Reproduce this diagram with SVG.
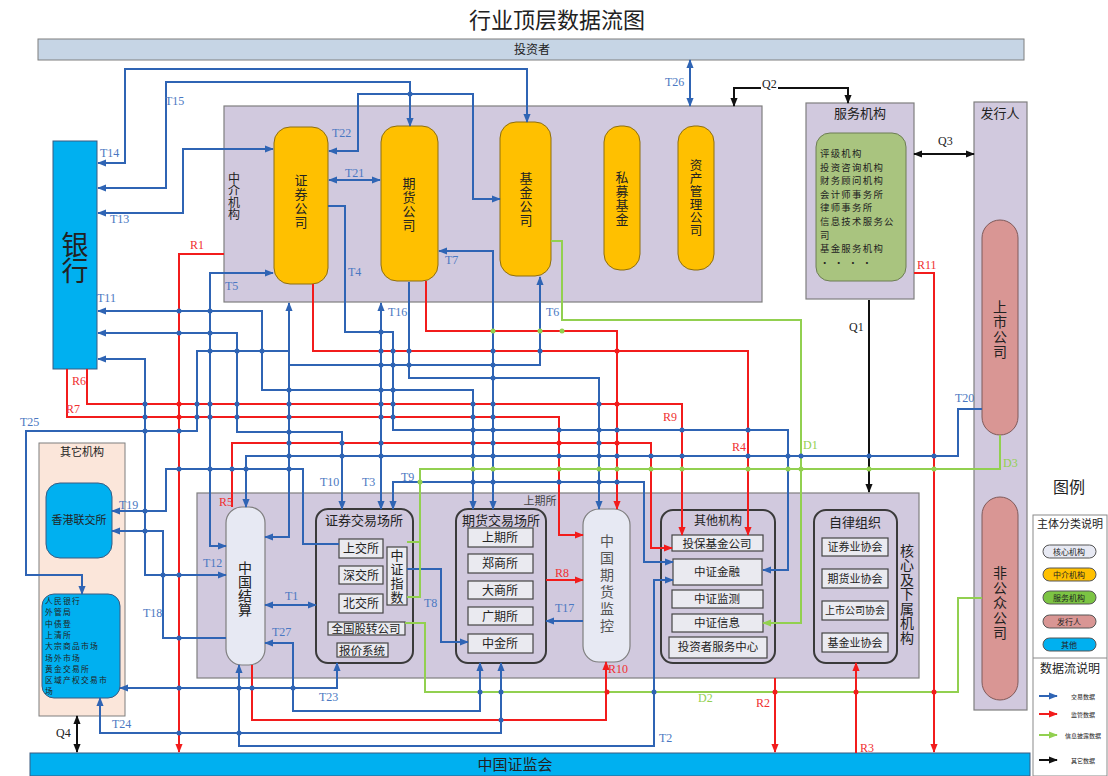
<svg xmlns="http://www.w3.org/2000/svg" width="1108" height="776" viewBox="0 0 1108 776">
<defs>
<style>
text{font-family:"Noto Sans CJK SC","Liberation Sans",sans-serif;fill:#222}
.lbl{font-family:"Liberation Serif",serif;font-size:12px}
.lb{fill:#4a78c2}.lr{fill:#f03030}.lg{fill:#92d050}.lk{fill:#222}
.frame{fill:#d1c9de;stroke:#7f7f7f;stroke-width:1.2}
.org{fill:#ffc000;stroke:#8d6e10;stroke-width:1}
.cont{fill:#d1c9de;stroke:#3a3a3a;stroke-width:2}
.sub{fill:#eaeaf0;stroke:#444;stroke-width:1.2}
.core{fill:#e7e9f3;stroke:#7f7f7f;stroke-width:1.2}
.cyan{fill:#00b0f0;stroke:#3a5a80;stroke-width:1}
.b{fill:none;stroke:#2f64b4;stroke-width:2}
.r{fill:none;stroke:#f21c1c;stroke-width:2}
.g{fill:none;stroke:#92d050;stroke-width:2}
.k{fill:none;stroke:#111;stroke-width:2}
.vt{writing-mode:vertical-rl;text-anchor:middle}
.c{text-anchor:middle}
.db{fill:#2f64b4}.dr{fill:#f21c1c}.dg{fill:#92d050}
</style>
<marker id="ab" viewBox="0 0 10 10" refX="9" refY="5" markerWidth="9" markerHeight="9" markerUnits="userSpaceOnUse" orient="auto-start-reverse"><path d="M0,1 L10,5 L0,9 z" fill="#2f64b4"/></marker>
<marker id="ar" viewBox="0 0 10 10" refX="9" refY="5" markerWidth="9" markerHeight="9" markerUnits="userSpaceOnUse" orient="auto-start-reverse"><path d="M0,1 L10,5 L0,9 z" fill="#f21c1c"/></marker>
<marker id="ag" viewBox="0 0 10 10" refX="9" refY="5" markerWidth="9" markerHeight="9" markerUnits="userSpaceOnUse" orient="auto-start-reverse"><path d="M0,1 L10,5 L0,9 z" fill="#92d050"/></marker>
<marker id="ak" viewBox="0 0 10 10" refX="9" refY="5" markerWidth="9" markerHeight="9" markerUnits="userSpaceOnUse" orient="auto-start-reverse"><path d="M0,1 L10,5 L0,9 z" fill="#111"/></marker>
</defs>
<rect width="1108" height="776" fill="#ffffff"/>
<text x="557" y="28" class="c" style="font-size:22px">行业顶层数据流图</text>

<g id="investor"><rect x="38" y="39" width="986" height="21" fill="#c6d5e5" stroke="#7f7f7f"/><text x="532" y="54" class="c" style="font-size:12px">投资者</text></g>

<g id="intermediary"><rect x="224" y="106" width="538" height="196" class="frame"/>
<text x="234" y="196" class="vt" style="font-size:12px">中介机构</text></g>
<g id="sec-co"><rect x="274" y="127" width="54" height="157" rx="16" class="org"/><text x="301" y="202" class="vt" style="font-size:13px;letter-spacing:1px">证券公司</text></g>
<g id="fut-co"><rect x="381" y="126" width="57" height="155" rx="16" class="org"/><text x="409" y="205" class="vt" style="font-size:13px;letter-spacing:1px">期货公司</text></g>
<g id="fund-co"><rect x="500" y="122" width="51" height="154" rx="16" class="org"/><text x="526" y="200" class="vt" style="font-size:13px;letter-spacing:1px">基金公司</text></g>
<g id="pe"><rect x="604" y="126" width="36" height="144" rx="16" class="org"/><text x="622" y="199" class="vt" style="font-size:13px;letter-spacing:1px">私募基金</text></g>
<g id="am"><rect x="678" y="126" width="36" height="144" rx="16" class="org"/><text x="696" y="198" class="vt" style="font-size:12.5px;letter-spacing:0.5px">资产管理公司</text></g>

<g id="service"><rect x="806" y="103" width="108" height="196" class="frame"/><text x="860" y="118" class="c" style="font-size:13px">服务机构</text>
<rect x="816" y="133" width="90" height="148" rx="14" fill="#a9c47f" stroke="#6d7d55"/>
<text style="font-size:9.4px;letter-spacing:1.3px"><tspan x="820" y="157">评级机构</tspan><tspan x="820" y="170.6">投资咨询机构</tspan><tspan x="820" y="184.2">财务顾问机构</tspan><tspan x="820" y="197.8">会计师事务所</tspan><tspan x="820" y="211.4">律师事务所</tspan><tspan x="820" y="225">信息技术服务公</tspan><tspan x="820" y="238.6">司</tspan><tspan x="820" y="252.2">基金服务机构</tspan><tspan x="820" y="265.8">· · · ·</tspan></text></g>

<g id="issuer"><rect x="974" y="102" width="53" height="608" class="frame"/><text x="1000" y="118" class="c" style="font-size:13px">发行人</text></g>
<g id="listed"><rect x="982" y="220" width="36" height="215" rx="18" fill="#d99694" stroke="#7f5a5a"/><text x="1000" y="330" class="vt" style="font-size:14px;letter-spacing:1px">上市公司</text></g>
<g id="nonpublic"><rect x="982" y="497" width="36" height="203" rx="18" fill="#d99694" stroke="#7f5a5a"/><text x="1000" y="603" class="vt" style="font-size:14px;letter-spacing:1px">非公众公司</text></g>

<g id="bank"><rect x="53" y="141" width="44" height="228" class="cyan"/><text x="75" y="257" class="vt" style="font-size:27px;letter-spacing:-1px">银行</text></g>

<g id="others"><rect x="39" y="443" width="86" height="273" fill="#fbe6da" stroke="#7f7f7f"/><text x="82" y="456" class="c" style="font-size:11px">其它机构</text></g>
<g id="hkex"><rect x="46" y="483" width="66" height="75" rx="14" class="cyan"/><text x="79" y="524" class="c" style="font-size:11px">香港联交所</text></g>
<g id="misc"><rect x="42" y="594" width="78" height="104" rx="12" class="cyan"/>
<text style="font-size:7.8px;letter-spacing:1.2px"><tspan x="45" y="604">人民银行</tspan><tspan x="45" y="615.3">外管局</tspan><tspan x="45" y="626.6">中债登</tspan><tspan x="45" y="637.9">上清所</tspan><tspan x="45" y="649.2">大宗商品市场</tspan><tspan x="45" y="660.5">场外市场</tspan><tspan x="45" y="671.8">黄金交易所</tspan><tspan x="45" y="683.1">区域产权交易市</tspan><tspan x="45" y="694.4">场</tspan></text></g>

<g id="core"><rect x="197" y="493" width="722" height="185" class="frame"/>
<text x="907" y="594" class="vt" style="font-size:14px;letter-spacing:0.5px">核心及下属机构</text>
<text x="540" y="505" class="c" style="font-size:11px;fill:#444">上期所</text></g>

<g id="csdc"><rect x="226" y="507" width="39" height="158" rx="16" class="core"/><text x="245" y="589" class="vt" style="font-size:14px">中国结算</text></g>

<g id="sec-ex"><rect x="316" y="509" width="97" height="154" rx="12" class="cont"/><text x="364" y="525" class="c" style="font-size:13px">证券交易场所</text>
<rect x="339" y="539" width="44" height="19" class="sub"/><text x="361" y="553" class="c" style="font-size:12px">上交所</text>
<rect x="339" y="566" width="44" height="18" class="sub"/><text x="361" y="580" class="c" style="font-size:12px">深交所</text>
<rect x="339" y="594" width="44" height="19" class="sub"/><text x="361" y="608" class="c" style="font-size:12px">北交所</text>
<rect x="387" y="547" width="20" height="58" class="sub"/><text x="397" y="577" class="vt" style="font-size:13px;letter-spacing:1px">中证指数</text>
<rect x="328" y="622" width="77" height="13" class="sub"/><text x="366" y="633" class="c" style="font-size:11.5px">全国股转公司</text>
<rect x="337" y="643" width="51" height="14" class="sub"/><text x="362" y="655" class="c" style="font-size:11.5px">报价系统</text></g>

<g id="fut-ex"><rect x="456" y="509" width="90" height="154" rx="12" class="cont"/><text x="501" y="525" class="c" style="font-size:13px">期货交易场所</text>
<rect x="468" y="528" width="65" height="19" class="sub"/><text x="500" y="542" class="c" style="font-size:12px">上期所</text>
<rect x="468" y="554" width="65" height="19" class="sub"/><text x="500" y="568" class="c" style="font-size:12px">郑商所</text>
<rect x="468" y="581" width="65" height="18" class="sub"/><text x="500" y="595" class="c" style="font-size:12px">大商所</text>
<rect x="468" y="607" width="65" height="18" class="sub"/><text x="500" y="621" class="c" style="font-size:12px">广期所</text>
<rect x="468" y="634" width="65" height="19" class="sub"/><text x="500" y="648" class="c" style="font-size:12px">中金所</text></g>

<g id="cfmmc"><rect x="583" y="509" width="47" height="153" rx="16" class="core"/><text x="607" y="585" class="vt" style="font-size:14px;letter-spacing:3px;fill:#555">中国期货监控</text></g>

<g id="other-inst"><rect x="661" y="510" width="114" height="153" rx="12" class="cont"/><text x="718" y="525" class="c" style="font-size:12px">其他机构</text>
<rect x="672" y="535" width="91" height="16" class="sub"/><text x="717" y="548" class="c" style="font-size:11.5px">投保基金公司</text>
<rect x="673" y="559" width="89" height="26" class="sub"/><text x="717" y="576" class="c" style="font-size:11.5px">中证金融</text>
<rect x="672" y="590" width="91" height="18" class="sub"/><text x="717" y="603" class="c" style="font-size:11.5px">中证监测</text>
<rect x="672" y="614" width="91" height="18" class="sub"/><text x="717" y="627" class="c" style="font-size:11.5px">中证信息</text>
<rect x="669" y="637" width="98" height="21" class="sub"/><text x="718" y="651" class="c" style="font-size:11.5px">投资者服务中心</text></g>

<g id="sro"><rect x="814" y="510" width="83" height="153" rx="12" class="cont"/><text x="855" y="527" class="c" style="font-size:13px">自律组织</text>
<rect x="822" y="538" width="66" height="18" class="sub"/><text x="855" y="551" class="c" style="font-size:11px">证券业协会</text>
<rect x="822" y="569" width="66" height="19" class="sub"/><text x="855" y="583" class="c" style="font-size:11px">期货业协会</text>
<rect x="822" y="601" width="66" height="19" class="sub"/><text x="855" y="614" class="c" style="font-size:10px">上市公司协会</text>
<rect x="822" y="633" width="66" height="19" class="sub"/><text x="855" y="647" class="c" style="font-size:11px">基金业协会</text></g>

<g id="csrc"><rect x="30" y="753" width="1000" height="23" fill="#00b0f0" stroke="#3a5a80"/><text x="515" y="770" class="c" style="font-size:15px">中国证监会</text></g>

<g id="connectors">
<path class="b" d="M527,122 V69 H125 V163 H98" marker-start="url(#ab)" marker-end="url(#ab)"/>
<path class="b" d="M410,126 V82 H166 V188 H98" marker-start="url(#ab)" marker-end="url(#ab)"/>
<path class="b" d="M329,151 H358 V94 H473 V199 H500" marker-start="url(#ab)" marker-end="url(#ab)"/>
<path class="b" d="M273,149 H183 V213 H98" marker-start="url(#ab)" marker-end="url(#ab)"/>
<path class="b" d="M329,180 H380" marker-start="url(#ab)" marker-end="url(#ab)"/>
<path class="b" d="M273,273 H210 V546 H226" marker-start="url(#ab)" marker-end="url(#ab)"/>
<path class="b" d="M328,206 H345 V332 H393 V430 H788 V570 H763" marker-end="url(#ab)"/>
<path class="b" d="M439,251 H493 V509" marker-start="url(#ab)" marker-end="url(#ab)"/>
<path class="b" d="M540,277 V365 H289" marker-start="url(#ab)"/>
<path class="b" d="M289,303 V537 H265" marker-start="url(#ab)" marker-end="url(#ab)"/>
<path class="b" d="M82,594 V575 H26 V431 H197 V351 H289" marker-start="url(#ab)"/>
<path class="b" d="M98,311 H262 V390 H473 V509" marker-start="url(#ab)" marker-end="url(#ab)"/>
<path class="b" d="M98,333 H237 V432 H342 V509" marker-start="url(#ab)" marker-end="url(#ab)"/>
<path class="b" d="M98,359 H145 V575 H226" marker-start="url(#ab)" marker-end="url(#ab)"/>
<path class="b" d="M409,282 V378 H599 V509" marker-end="url(#ab)"/>
<path class="b" d="M381,303 V509" marker-start="url(#ab)" marker-end="url(#ab)"/>
<path class="b" d="M112,511 H166 V469 H303 V544 H339" marker-start="url(#ab)"/>
<path class="b" d="M112,531 H163 V638 H226" marker-start="url(#ab)"/>
<path class="b" d="M982,409 H958 V456 H246 V507" marker-end="url(#ab)"/>
<path class="b" d="M393,509 V482 H644 V562 H673" marker-start="url(#ab)" marker-end="url(#ab)"/>
<path class="b" d="M673,580 H654 V746 H239 V665" marker-start="url(#ab)" marker-end="url(#ab)"/>
<path class="b" d="M265,605 H316" marker-start="url(#ab)" marker-end="url(#ab)"/>
<path class="b" d="M583,621 H546" marker-end="url(#ab)"/>
<path class="b" d="M407,569 H441 V642 H468" marker-end="url(#ab)"/>
<path class="b" d="M265,643 H293 V711 H480 V663" marker-start="url(#ab)" marker-end="url(#ab)"/>
<path class="b" d="M120,688 H337 V663" marker-start="url(#ab)" marker-end="url(#ab)"/>
<path class="b" d="M100,698 V733 H501 V663" marker-start="url(#ab)" marker-end="url(#ab)"/>
<path class="b" d="M690,60 V106" marker-start="url(#ab)" marker-end="url(#ab)"/>

<path class="r" d="M224,254 H179 V752" marker-end="url(#ar)"/>
<path class="r" d="M87,369 V404 H682 V535" marker-end="url(#ar)"/>
<path class="r" d="M67,369 V417 H559 V535 H583" marker-end="url(#ar)"/>
<path class="r" d="M313,284 V351 H748 V535" marker-end="url(#ar)"/>
<path class="r" d="M426,281 V331 H617 V509" marker-end="url(#ar)"/>
<path class="r" d="M232,507 V443 H651 V548 H672" marker-end="url(#ar)"/>
<path class="r" d="M546,580 H583" marker-end="url(#ar)"/>
<path class="r" d="M252,665 V720 H606 V662" marker-end="url(#ar)"/>
<path class="r" d="M775,678 V752" marker-end="url(#ar)"/>
<path class="r" d="M856,753 V663" marker-end="url(#ar)"/>
<path class="r" d="M914,273 H934 V752" marker-end="url(#ar)"/>

<path class="g" d="M551,241 H562 V320 H801 V623 H763" marker-end="url(#ag)"/>
<path class="g" d="M1000,435 V469 H420 V597 H407 M420,542 H407"/>
<path class="g" d="M982,598 H958 V692 H425 V623 H405"/>

<path class="k" d="M869,300 V492" marker-end="url(#ak)"/>
<path class="k" d="M734,106 V88 H848 V103" marker-start="url(#ak)" marker-end="url(#ak)"/>
<path class="k" d="M914,154 H974" marker-start="url(#ak)" marker-end="url(#ak)"/>
<path class="k" d="M77,716 V752" marker-start="url(#ak)" marker-end="url(#ak)"/>

<g class="db">
<circle cx="410" cy="94" r="2.5"/>
<circle cx="179" cy="311" r="2.5"/><circle cx="210" cy="311" r="2.5"/>
<circle cx="179" cy="333" r="2.5"/><circle cx="210" cy="333" r="2.5"/><circle cx="381" cy="332" r="2.5"/>
<circle cx="210" cy="351" r="2.5"/><circle cx="237" cy="351" r="2.5"/><circle cx="262" cy="351" r="2.5"/>
<circle cx="381" cy="351" r="2.5"/><circle cx="393" cy="351" r="2.5"/><circle cx="409" cy="351" r="2.5"/><circle cx="493" cy="351" r="2.5"/><circle cx="540" cy="351" r="2.5"/>
<circle cx="381" cy="365" r="2.5"/><circle cx="393" cy="365" r="2.5"/><circle cx="409" cy="365" r="2.5"/><circle cx="493" cy="365" r="2.5"/>
<circle cx="493" cy="378" r="2.5"/>
<circle cx="289" cy="390" r="2.5"/><circle cx="381" cy="390" r="2.5"/><circle cx="393" cy="390" r="2.5"/>
<circle cx="145" cy="404" r="2.5"/><circle cx="197" cy="404" r="2.5"/><circle cx="210" cy="404" r="2.5"/><circle cx="237" cy="404" r="2.5"/><circle cx="289" cy="404" r="2.5"/><circle cx="381" cy="404" r="2.5"/><circle cx="393" cy="404" r="2.5"/><circle cx="473" cy="404" r="2.5"/><circle cx="493" cy="404" r="2.5"/><circle cx="599" cy="404" r="2.5"/>
<circle cx="145" cy="417" r="2.5"/><circle cx="197" cy="417" r="2.5"/><circle cx="210" cy="417" r="2.5"/><circle cx="237" cy="417" r="2.5"/><circle cx="289" cy="417" r="2.5"/><circle cx="381" cy="417" r="2.5"/><circle cx="393" cy="417" r="2.5"/><circle cx="473" cy="417" r="2.5"/><circle cx="493" cy="417" r="2.5"/>
<circle cx="145" cy="431" r="2.5"/><circle cx="179" cy="431" r="2.5"/><circle cx="289" cy="432" r="2.5"/>
<circle cx="473" cy="430" r="2.5"/><circle cx="493" cy="430" r="2.5"/><circle cx="559" cy="430" r="2.5"/><circle cx="599" cy="430" r="2.5"/><circle cx="617" cy="430" r="2.5"/><circle cx="682" cy="430" r="2.5"/><circle cx="748" cy="430" r="2.5"/>
<circle cx="289" cy="443" r="2.5"/><circle cx="342" cy="443" r="2.5"/><circle cx="381" cy="443" r="2.5"/><circle cx="473" cy="443" r="2.5"/><circle cx="493" cy="443" r="2.5"/><circle cx="599" cy="443" r="2.5"/>
<circle cx="289" cy="456" r="2.5"/><circle cx="342" cy="456" r="2.5"/><circle cx="381" cy="456" r="2.5"/><circle cx="473" cy="456" r="2.5"/><circle cx="493" cy="456" r="2.5"/><circle cx="559" cy="456" r="2.5"/><circle cx="599" cy="456" r="2.5"/><circle cx="617" cy="456" r="2.5"/><circle cx="651" cy="456" r="2.5"/><circle cx="682" cy="456" r="2.5"/><circle cx="748" cy="456" r="2.5"/><circle cx="788" cy="456" r="2.5"/><circle cx="801" cy="456" r="2.5"/><circle cx="869" cy="456" r="2.5"/><circle cx="934" cy="456" r="2.5"/>
<circle cx="179" cy="469" r="2.5"/><circle cx="210" cy="469" r="2.5"/><circle cx="232" cy="469" r="2.5"/><circle cx="246" cy="469" r="2.5"/><circle cx="289" cy="469" r="2.5"/>
<circle cx="473" cy="482" r="2.5"/><circle cx="493" cy="482" r="2.5"/><circle cx="559" cy="482" r="2.5"/><circle cx="599" cy="482" r="2.5"/><circle cx="617" cy="482" r="2.5"/>
<circle cx="145" cy="511" r="2.5"/><circle cx="145" cy="531" r="2.5"/><circle cx="163" cy="575" r="2.5"/><circle cx="179" cy="575" r="2.5"/><circle cx="179" cy="638" r="2.5"/>
<circle cx="179" cy="688" r="2.5"/><circle cx="239" cy="688" r="2.5"/><circle cx="252" cy="688" r="2.5"/><circle cx="293" cy="688" r="2.5"/>
<circle cx="501" cy="720" r="2.5"/><circle cx="179" cy="733" r="2.5"/><circle cx="239" cy="733" r="2.5"/>
<circle cx="480" cy="692" r="2.5"/><circle cx="501" cy="692" r="2.5"/><circle cx="654" cy="692" r="2.5"/>
</g>
<g class="dr">
<circle cx="179" cy="404" r="2.5"/><circle cx="617" cy="404" r="2.5"/><circle cx="179" cy="417" r="2.5"/><circle cx="617" cy="351" r="2.5"/>
<circle cx="559" cy="443" r="2.5"/><circle cx="617" cy="443" r="2.5"/>
<circle cx="607" cy="692" r="2.5"/><circle cx="775" cy="692" r="2.5"/><circle cx="856" cy="692" r="2.5"/><circle cx="934" cy="692" r="2.5"/>
</g>
<g class="dg">
<circle cx="473" cy="469" r="2.5"/><circle cx="493" cy="469" r="2.5"/><circle cx="559" cy="469" r="2.5"/><circle cx="599" cy="469" r="2.5"/><circle cx="617" cy="469" r="2.5"/><circle cx="651" cy="469" r="2.5"/><circle cx="682" cy="469" r="2.5"/><circle cx="748" cy="469" r="2.5"/><circle cx="788" cy="469" r="2.5"/><circle cx="801" cy="469" r="2.5"/><circle cx="869" cy="469" r="2.5"/><circle cx="934" cy="469" r="2.5"/>
<circle cx="420" cy="482" r="2.5"/><circle cx="493" cy="331" r="2.5"/><circle cx="540" cy="331" r="2.5"/><circle cx="562" cy="331" r="2.5"/>
</g>
</g>

<g id="labels">
<text x="100" y="157" class="lbl lb">T14</text>
<text x="165" y="105" class="lbl lb">T15</text>
<text x="110" y="223" class="lbl lb">T13</text>
<text x="332" y="137" class="lbl lb">T22</text>
<text x="345" y="177" class="lbl lb">T21</text>
<text x="348" y="276" class="lbl lb">T4</text>
<text x="445" y="264" class="lbl lb">T7</text>
<text x="225" y="290" class="lbl lb">T5</text>
<text x="97" y="302" class="lbl lb">T11</text>
<text x="190" y="249" class="lbl lr">R1</text>
<text x="72" y="385" class="lbl lr">R6</text>
<text x="66" y="413" class="lbl lr">R7</text>
<text x="20" y="426" class="lbl lb">T25</text>
<text x="388" y="316" class="lbl lb">T16</text>
<text x="546" y="316" class="lbl lb">T6</text>
<text x="663" y="421" class="lbl lr">R9</text>
<text x="732" y="451" class="lbl lr">R4</text>
<text x="803" y="449" class="lbl lg">D1</text>
<text x="955" y="402" class="lbl lb">T20</text>
<text x="1003" y="467" class="lbl lg">D3</text>
<text x="849" y="331" class="lbl lk">Q1</text>
<text x="917" y="269" class="lbl lr">R11</text>
<text x="938" y="145" class="lbl lk">Q3</text>
<rect x="761" y="80" width="17" height="12" fill="#fff"/>
<text x="762" y="88" class="lbl lk">Q2</text>
<text x="665" y="86" class="lbl lb">T26</text>
<text x="320" y="486" class="lbl lb">T10</text>
<text x="362" y="486" class="lbl lb">T3</text>
<text x="401" y="481" class="lbl lb">T9</text>
<text x="219" y="506" class="lbl lr">R5</text>
<text x="119" y="509" class="lbl lb">T19</text>
<text x="203" y="567" class="lbl lb">T12</text>
<text x="143" y="617" class="lbl lb">T18</text>
<text x="285" y="600" class="lbl lb">T1</text>
<text x="272" y="636" class="lbl lb">T27</text>
<text x="424" y="607" class="lbl lb">T8</text>
<text x="555" y="577" class="lbl lr">R8</text>
<text x="555" y="612" class="lbl lb">T17</text>
<text x="608" y="673" class="lbl lr">R10</text>
<text x="319" y="701" class="lbl lb">T23</text>
<text x="112" y="728" class="lbl lb">T24</text>
<text x="56" y="737" class="lbl lk">Q4</text>
<text x="698" y="702" class="lbl lg">D2</text>
<text x="756" y="707" class="lbl lr">R2</text>
<text x="860" y="752" class="lbl lr">R3</text>
<text x="659" y="742" class="lbl lb">T2</text>
</g>

<g id="legend">
<text x="1069" y="493" class="c" style="font-size:16px">图例</text>
<rect x="1033" y="515" width="74" height="261" fill="#fff" stroke="#8a8a8a"/>
<line x1="1033" y1="658" x2="1107" y2="658" stroke="#8a8a8a"/>
<text x="1070" y="528" class="c" style="font-size:11px">主体分类说明</text>
<rect x="1043" y="545" width="53" height="13" rx="6.5" fill="#e7e9f3" stroke="#555"/><text x="1069" y="555" class="c" style="font-size:8px">核心机构</text>
<rect x="1043" y="568" width="53" height="13" rx="6.5" fill="#ffc000" stroke="#555"/><text x="1069" y="578" class="c" style="font-size:8px">中介机构</text>
<rect x="1043" y="591" width="53" height="13" rx="6.5" fill="#7cc443" stroke="#555"/><text x="1069" y="601" class="c" style="font-size:8px">服务机构</text>
<rect x="1043" y="615" width="53" height="13" rx="6.5" fill="#d99694" stroke="#555"/><text x="1069" y="625" class="c" style="font-size:8px">发行人</text>
<rect x="1043" y="638" width="53" height="13" rx="6.5" fill="#00b0f0" stroke="#555"/><text x="1069" y="648" class="c" style="font-size:8px">其他</text>
<text x="1070" y="673" class="c" style="font-size:12px">数据流说明</text>
<line x1="1039" y1="696" x2="1057" y2="696" class="b" marker-end="url(#ab)"/><text x="1083" y="699" class="c" style="font-size:6px">交易数据</text>
<line x1="1039" y1="714" x2="1057" y2="714" class="r" marker-end="url(#ar)"/><text x="1083" y="717" class="c" style="font-size:6px">监管数据</text>
<line x1="1039" y1="735" x2="1057" y2="735" class="g" marker-end="url(#ag)"/><text x="1083" y="738" class="c" style="font-size:6px">信息披露数据</text>
<line x1="1039" y1="760" x2="1057" y2="760" class="k" marker-end="url(#ak)"/><text x="1083" y="763" class="c" style="font-size:6px">其它数据</text>
</g>
</svg>
